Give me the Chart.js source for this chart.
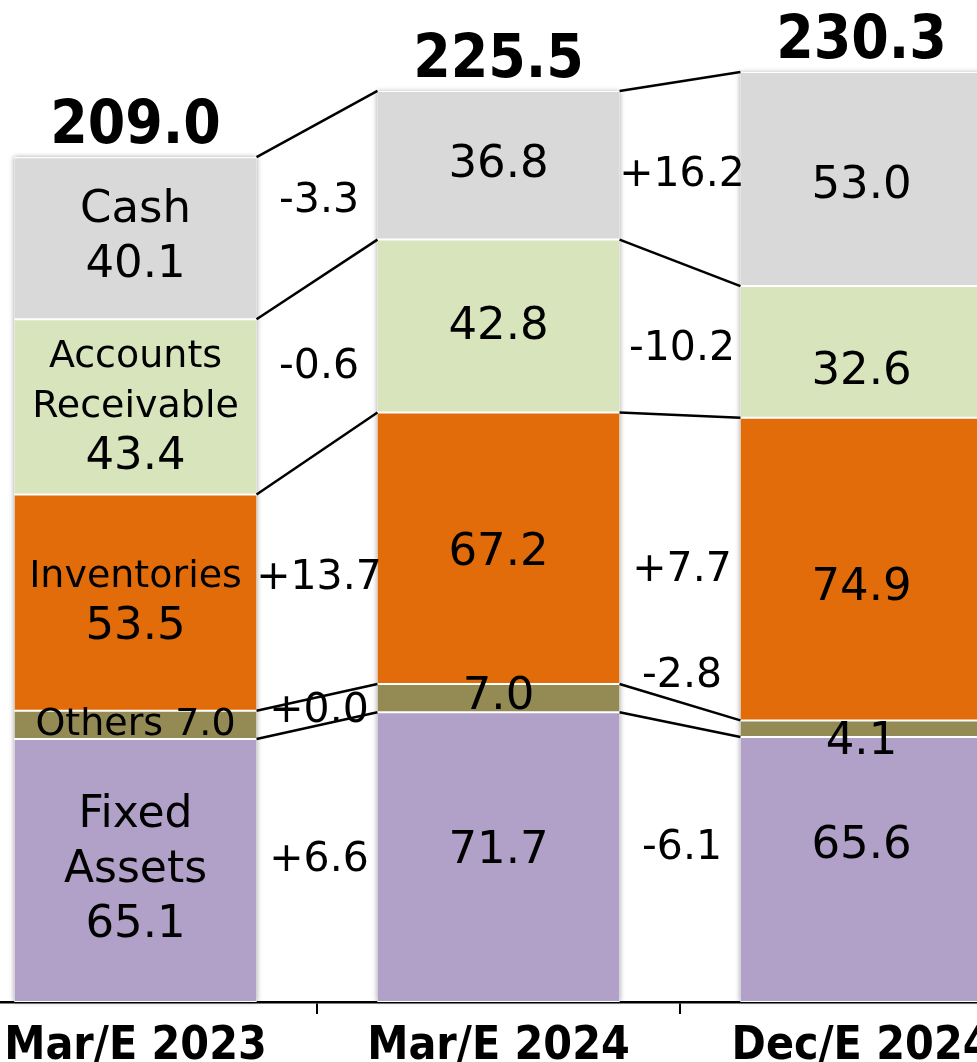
<!DOCTYPE html>
<html>
<head>
<meta charset="utf-8">
<title>Assets breakdown</title>
<script src="https://cdn.jsdelivr.net/npm/chart.js@4.4.1/dist/chart.umd.min.js"></script>
<style>
  html, body { margin: 0; padding: 0; background: #fff; overflow: hidden; }
  body { width: 977px; height: 1062px; position: relative; }
  #wrap { position: absolute; left: -46px; top: 0; width: 1089px; height: 1062px; }
</style>
</head>
<body>
<div id="wrap"><canvas id="myChart"></canvas></div>
<script>
const categories = ["Mar/E 2023", "Mar/E 2024", "Dec/E 2024"];
const fixedAssets = [65.1, 71.7, 65.6];
const others = [7.0, 7.0, 4.1];
const inventories = [53.5, 67.2, 74.9];
const receivables = [43.4, 42.8, 32.6];
const cash = [40.1, 36.8, 53.0];
const totals = ["209.0", "225.5", "230.3"];
const fixedChanges = ["+6.6", "-6.1"];
const othersChanges = ["+0.0", "-2.8"];
const inventoryChanges = ["+13.7", "+7.7"];
const receivableChanges = ["-0.6", "-10.2"];
const cashChanges = ["-3.3", "+16.2"];

const condensed = "'DejaVu Sans Condensed', 'Liberation Sans Narrow', sans-serif";
const plain = "'DejaVu Sans', Verdana, sans-serif";

// bottom to top, same order as the stack
const series = [
  { label: "Fixed Assets", data: fixedAssets, color: "#b1a0c7", changes: fixedChanges, name: ["Fixed", "Assets"], nameSize: 44, gap: 55 },
  { label: "Others", data: others, color: "#948a54", changes: othersChanges, name: ["Others"], nameSize: 38, gap: 0 },
  { label: "Inventories", data: inventories, color: "#e36c0a", changes: inventoryChanges, name: ["Inventories"], nameSize: 38, gap: 50 },
  { label: "Accounts Receivable", data: receivables, color: "#d8e4bc", changes: receivableChanges, name: ["Accounts", "Receivable"], nameSize: 38, gap: 50 },
  { label: "Cash", data: cash, color: "#d9d9d9", changes: cashChanges, name: ["Cash"], nameSize: 45, gap: 55 },
];

// small nudges of the value labels, per bar then per series
const labelShift = [
  [0, 0, 0, 0, 0],
  [-6, -1, 5, 1, 0],
  [-23, 14, 19, 20, 7],
];
const changeShift = [
  [0, 0, 0, 0, 0],
  [0, -44, 0, 0, 0],
];

function labelCenter(chart, d, i) {
  const bar = chart.getDatasetMeta(d).data[i];
  return (bar.y + bar.base) / 2 + labelShift[i][d];
}

const shadow = {
  id: "shadow",
  beforeDatasetsDraw(chart) {
    const ctx = chart.ctx;
    const bottom = chart.getDatasetMeta(0).data;
    const top = chart.getDatasetMeta(series.length - 1).data;
    ctx.save();
    ctx.fillStyle = "#ffffff";
    ctx.shadowColor = "rgba(0,0,0,0.35)";
    ctx.shadowBlur = 5;
    top.forEach((bar, i) => {
      const x = bar.x - bar.width / 2;
      ctx.fillRect(x, bar.y, bar.width, bottom[i].base - bar.y);
    });
    ctx.restore();
  },
};

const bridges = {
  id: "bridges",
  afterDatasetsDraw(chart) {
    const ctx = chart.ctx;
    ctx.save();
    ctx.strokeStyle = "#000";
    ctx.lineWidth = 2.5;
    series.forEach((s, d) => {
      const bars = chart.getDatasetMeta(d).data;
      for (let i = 0; i < bars.length - 1; i++) {
        const a = bars[i];
        const b = bars[i + 1];
        ctx.beginPath();
        ctx.moveTo(a.x + a.width / 2, a.y);
        ctx.lineTo(b.x - b.width / 2, b.y);
        ctx.stroke();
      }
    });
    ctx.restore();
  },
};

const labels = {
  id: "labels",
  afterDraw(chart) {
    const ctx = chart.ctx;
    ctx.save();
    ctx.fillStyle = "#000";
    ctx.textAlign = "center";
    ctx.textBaseline = "middle";
    series.forEach((s, d) => {
      const bars = chart.getDatasetMeta(d).data;
      bars.forEach((bar, i) => {
        const value = s.data[i].toFixed(1);
        const cy = labelCenter(chart, d, i);
        let lines;
        if (i === 0 && s.gap === 0) {
          lines = [{ text: s.name[0] + " " + value, size: s.nameSize }];
        } else if (i === 0) {
          lines = s.name.map((t) => ({ text: t, size: s.nameSize }));
          lines.push({ text: value, size: 45 });
        } else {
          lines = [{ text: value, size: 45 }];
        }
        const start = cy - ((lines.length - 1) * s.gap) / 2;
        lines.forEach((ln, k) => {
          ctx.font = ln.size + "px " + plain;
          ctx.fillText(ln.text, bar.x, start + k * s.gap);
        });
      });
      for (let i = 0; i < s.changes.length; i++) {
        const a = bars[i];
        const b = bars[i + 1];
        const x = (a.x + a.width / 2 + b.x - b.width / 2) / 2 + 2;
        const y = (labelCenter(chart, d, i) + labelCenter(chart, d, i + 1)) / 2 + changeShift[i][d];
        ctx.font = "41px " + plain;
        ctx.fillText(s.changes[i], x, y);
      }
    });
    const top = chart.getDatasetMeta(series.length - 1).data;
    ctx.font = "bold 60px " + condensed;
    ctx.textBaseline = "alphabetic";
    top.forEach((bar, i) => {
      ctx.fillText(totals[i], bar.x, bar.y - 14);
    });
    ctx.restore();
  },
};

new Chart(document.getElementById("myChart"), {
  type: "bar",
  data: {
    labels: categories,
    datasets: series.map((s) => ({
      label: s.label,
      data: s.data,
      backgroundColor: s.color,
      borderColor: "#ffffff",
      borderWidth: { top: 1, bottom: 1, left: 0, right: 0 },
      borderSkipped: false,
      categoryPercentage: 1,
      barPercentage: 0.667,
    })),
  },
  options: {
    responsive: true,
    maintainAspectRatio: false,
    animation: false,
    layout: { padding: 0 },
    plugins: { legend: { display: false }, tooltip: { enabled: false } },
    scales: {
      x: {
        stacked: true,
        grid: { display: true, drawOnChartArea: false, drawTicks: true, tickLength: 12, color: "#000", lineWidth: 2, offset: true },
        border: { display: true, color: "#000", width: 2.5 },
        ticks: { color: "#000", padding: 8, maxRotation: 0, autoSkip: false, font: { family: condensed, size: 46, weight: "bold", lineHeight: 1.1 } },
        afterFit: (scale) => { scale.height = 60; },
      },
      y: { stacked: true, display: false, min: 0, max: 248 },
    },
  },
  plugins: [shadow, bridges, labels],
});
</script>
</body>
</html>
